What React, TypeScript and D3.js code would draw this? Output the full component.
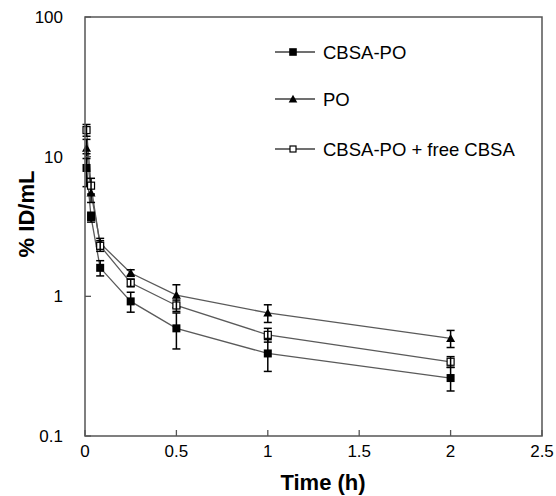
import React from "react";
import * as d3 from "d3";

const times = [0.0083, 0.033, 0.083, 0.25, 0.5, 1, 2];
const cbsaPoMean = [8.3, 3.7, 1.6, 0.92, 0.59, 0.39, 0.26];
const cbsaPoErr = [2.2, 0.3, 0.2, 0.15, 0.17, 0.1, 0.05];
const poMean = [11.5, 5.5, 2.4, 1.47, 1.02, 0.76, 0.5];
const poErr = [1.8, 0.8, 0.2, 0.08, 0.19, 0.11, 0.07];
const freeMean = [15.5, 6.2, 2.3, 1.25, 0.86, 0.53, 0.34];
const freeErr = [1.5, 0.8, 0.2, 0.08, 0.08, 0.06, 0.03];
const seriesNames = ["CBSA-PO", "PO", "CBSA-PO + free CBSA"];
const xTicks = [0, 0.5, 1, 1.5, 2, 2.5];
const yTicks = [0.1, 1, 10, 100];

const W = 556, H = 496;
const M = { left: 85, right: 542, top: 17, bottom: 436 };

type Kind = "filled" | "triangle" | "open";

function Marker({ kind, x, y, s = 4 }: { kind: Kind; x: number; y: number; s?: number }) {
  if (kind === "triangle") {
    const t = s + 0.5;
    return <path d={`M${x},${y - t}L${x + t},${y + t * 0.8}L${x - t},${y + t * 0.8}Z`} fill="#000" />;
  }
  if (kind === "filled") return <rect x={x - s} y={y - s} width={2 * s} height={2 * s} fill="#000" />;
  return <rect x={x - s + 0.5} y={y - s + 0.5} width={2 * s - 1} height={2 * s - 1} fill="#fff" stroke="#000" strokeWidth={1.2} />;
}

export default function App() {
  const x = d3.scaleLinear().domain([0, 2.5]).range([M.left, M.right]);
  const y = d3.scaleLog().domain([0.1, 100]).range([M.bottom, M.top]);
  const series: { name: string; mean: number[]; err: number[]; kind: Kind }[] = [
    { name: seriesNames[0], mean: cbsaPoMean, err: cbsaPoErr, kind: "filled" },
    { name: seriesNames[1], mean: poMean, err: poErr, kind: "triangle" },
    { name: seriesNames[2], mean: freeMean, err: freeErr, kind: "open" },
  ];
  const line = d3.line<number>().x((_, i) => x(times[i])).y((d) => y(d));
  const font = "Liberation Sans, Arial, sans-serif";
  const legendY = [52, 99, 149];
  return (
    <svg width={W} height={H} style={{ position: "absolute", left: 0, top: 0 }} fontFamily={font}>
      <rect width={W} height={H} fill="#fff" />
      {series.map((s) => (
        <path key={s.name + "l"} d={line(s.mean) || ""} fill="none" stroke="#5a5a5a" strokeWidth={1.3} />
      ))}
      {series.map((s) => (
        <g key={s.name + "m"}>
          {s.mean.map((m, i) => {
            const cx = x(times[i]);
            const y1 = y(m + s.err[i]);
            const y2 = y(Math.max(m - s.err[i], 0.11));
            return (
              <g key={i}>
                <Marker kind={s.kind} x={cx} y={y(m)} />
                <line x1={cx} x2={cx} y1={y1} y2={y2} stroke="#000" strokeWidth={1.5} />
                <line x1={cx - 4} x2={cx + 4} y1={y1} y2={y1} stroke="#000" strokeWidth={1.5} />
                <line x1={cx - 4} x2={cx + 4} y1={y2} y2={y2} stroke="#000" strokeWidth={1.5} />
              </g>
            );
          })}
        </g>
      ))}
      <rect x={M.left} y={M.top} width={M.right - M.left} height={M.bottom - M.top} fill="none" stroke="#555" strokeWidth={1.5} />
      {xTicks.map((t) => (
        <g key={"x" + t}>
          <line x1={x(t)} x2={x(t)} y1={M.bottom} y2={M.bottom - 6} stroke="#555" strokeWidth={1.3} />
          <text x={x(t)} y={457} textAnchor="middle" fontSize={17} fill="#000">{t}</text>
        </g>
      ))}
      {yTicks.map((t) => (
        <g key={"y" + t}>
          <line x1={M.left} x2={M.left + 6} y1={y(t)} y2={y(t)} stroke="#555" strokeWidth={1.3} />
          <text x={63} y={y(t) + 6} textAnchor="end" fontSize={17} fill="#000">{t}</text>
        </g>
      ))}
      <text x={323} y={490} textAnchor="middle" fontSize={22} fontWeight="bold">Time (h)</text>
      <text transform={`translate(34,214) rotate(-90)`} textAnchor="middle" fontSize={22} fontWeight="bold">% ID/mL</text>
      {series.map((s, i) => (
        <g key={s.name + "lg"}>
          <line x1={275} x2={315} y1={legendY[i]} y2={legendY[i]} stroke="#404040" strokeWidth={1.3} />
          <Marker kind={s.kind} x={293} y={legendY[i]} s={s.kind === "open" ? 3.5 : 3.8} />
          <text x={323} y={legendY[i] + 6.5} fontSize={18.5}>{s.name}</text>
        </g>
      ))}
    </svg>
  );
}
